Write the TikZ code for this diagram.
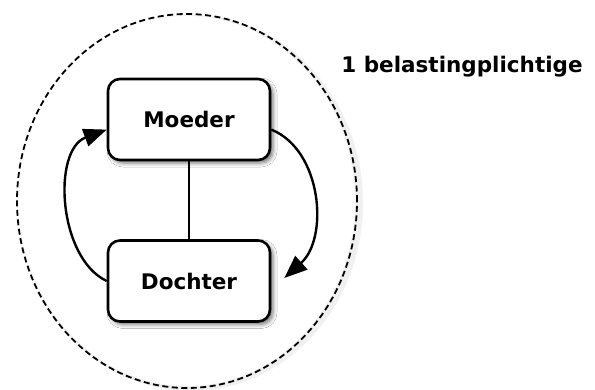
\documentclass[tikz,border=0pt]{standalone}
\usepackage{fontspec}
\setmainfont{DejaVu Sans}
\usetikzlibrary{shadows,arrows.meta,calc,shadows.blur,shapes.geometric}
\tikzset{
  box/.style={draw=black, line width=2.6pt, rounded corners=12pt, fill=white,
    minimum width=162pt, minimum height=81pt, inner sep=0pt,
    font=\fontsize{21.5}{26}\selectfont\bfseries,
    blur shadow={shadow xshift=3pt, shadow yshift=-3pt, shadow blur radius=4pt, shadow opacity=55}},
  conn/.style={line width=2.4pt},
  arr/.style={line width=2.4pt, -{Triangle[length=23pt,width=18pt]}},
  grp/.style={draw=black, line width=1.8pt, dash pattern=on 6pt off 3.5pt},
  lbl/.style={font=\fontsize{21.5}{26}\selectfont\bfseries, inner sep=0pt}
}
\begin{document}
\begin{tikzpicture}[x=1pt,y=-1pt]
\useasboundingbox (0,0) rectangle (595,390);
% faint glow behind the group ellipse
\fill[black!6] (191,203) ellipse [x radius=172, y radius=188];
\fill[white] (187,201) ellipse [x radius=168, y radius=185];
\node[grp, ellipse, minimum width=340pt, minimum height=374pt, inner sep=0pt] (G) at (187,201) {};
\node[box] (M) at (189,119.5) {Moeder};
\node[box] (D) at (189,281) {Dochter};
\node[lbl] (T) at (462,67) {1 belastingplichtige};
\draw[conn] (M.south) -- (D.south |- D.north);
\draw[arr] (D.west) .. controls (58,258) and (52,150) .. (M.187);
\coordinate (e) at ($(D.east)+(13,-3)$);
\draw[arr] (M.353) .. controls (322,150) and (329,238) .. (e);
\end{tikzpicture}
\end{document}
